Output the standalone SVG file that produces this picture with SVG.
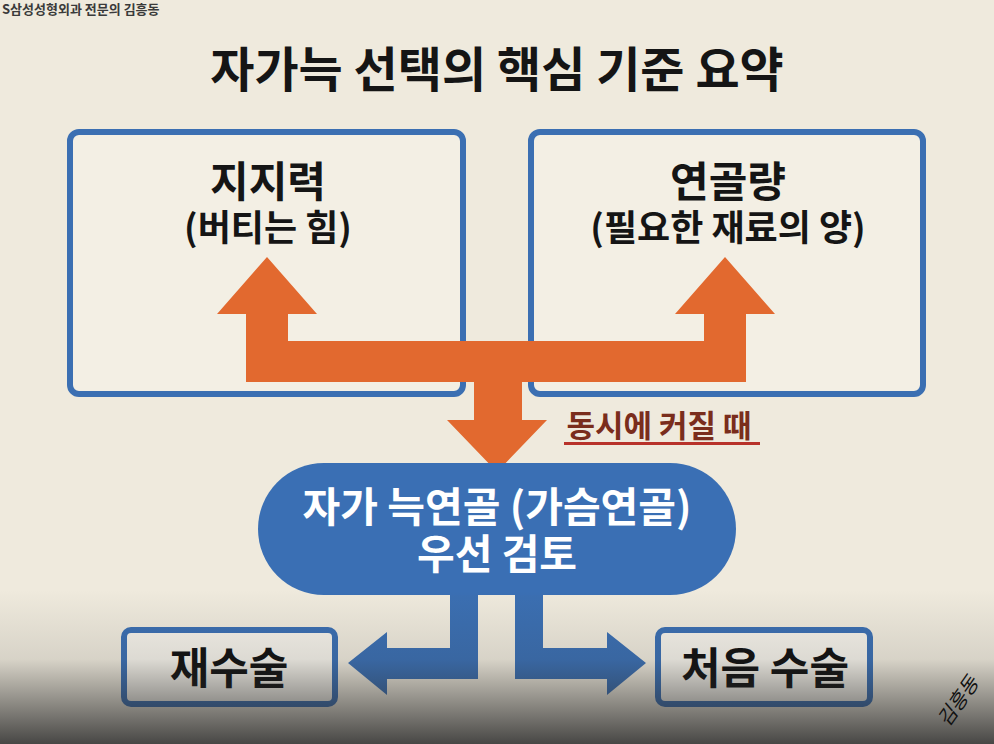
<svg xmlns="http://www.w3.org/2000/svg" width="994" height="744" viewBox="0 0 994 744">
<defs>
<style>
.t{font-family:"Noto Sans CJK KR","Noto Sans",sans-serif;font-weight:700;text-anchor:middle}
.box{fill:#f3efe4;stroke:#3b6fb2;stroke-width:6}
.orange{fill:#e2692f}
.blue{fill:#3b6fb2}
</style>
<linearGradient id="vig" x1="0" y1="0" x2="0" y2="1">
<stop offset="0" stop-color="#2a2a2a" stop-opacity="0"/>
<stop offset="0.45" stop-color="#2a2a2a" stop-opacity="0.12"/>
<stop offset="1" stop-color="#2a2a2a" stop-opacity="0.85"/>
</linearGradient>
</defs>
<rect width="994" height="744" fill="#efeadd"/>
<text x="2" y="14" font-family="Noto Sans CJK KR,sans-serif" font-size="13" font-weight="700" fill="#3a3a3a">S삼성성형외과 전문의 김흥동</text>
<text class="t" x="497" y="87" font-size="48" font-weight="900" fill="#151515">자가늑 선택의 핵심 기준 요약</text>

<g id="node-support">
<rect class="box" x="70" y="132" width="393" height="262" rx="9"/>
<text class="t" x="268" y="197" font-size="42" fill="#151515">지지력</text>
<text class="t" x="268" y="241" font-size="36" fill="#151515">(버티는 힘)</text>
</g>
<g id="node-amount">
<rect class="box" x="531" y="132" width="392" height="262" rx="9"/>
<text class="t" x="728" y="197" font-size="42" fill="#151515">연골량</text>
<text class="t" x="728" y="241" font-size="36" fill="#151515">(필요한 재료의 양)</text>
</g>

<g id="connectors">
<path class="orange" d="M246 382 L246 314 L217 314 L267 257 L317 314 L288 314 L288 341 L704 341 L704 314 L675 314 L725 257 L775 314 L746 314 L746 382 L522 382 L522 420 L547 420 L497 472 L447 420 L474 420 L474 382 Z"/>
<path class="blue" d="M450 590 L478 590 L478 679 L387 679 L387 695 L348 663 L387 632 L387 648 L450 648 Z"/>
<path class="blue" d="M515 590 L543 590 L543 648 L607 648 L607 632 L646 663 L607 695 L607 679 L515 679 Z"/>
<text class="t" x="659" y="437" font-size="31" fill="#7a2d1c">동시에 커질 때</text>
<rect x="564" y="442" width="196" height="3" fill="#b8322a"/>
</g>

<g id="node-rib">
<rect x="258" y="463" width="478" height="132" rx="66" fill="#3a6fb4"/>
<text class="t" x="497" y="522" font-size="41" fill="#ffffff">자가 늑연골 (가슴연골)</text>
<text class="t" x="497" y="569" font-size="41" fill="#ffffff">우선 검토</text>
</g>

<g id="node-revision">
<rect x="124" y="630" width="211" height="74" rx="7" fill="#f5f2ea" stroke="#3b6fb2" stroke-width="6"/>
<text class="t" x="229" y="684" font-size="43" fill="#111111">재수술</text>
</g>
<g id="node-first">
<rect x="658" y="630" width="212" height="74" rx="7" fill="#f5f2ea" stroke="#3b6fb2" stroke-width="6"/>
<text class="t" x="765" y="684" font-size="43" fill="#111111">처음 수술</text>
</g>

<rect x="0" y="590" width="994" height="154" fill="url(#vig)" pointer-events="none"/>
<text x="948" y="728" transform="rotate(-55 948 728)" font-family="Noto Sans CJK KR,sans-serif" font-size="20" font-weight="400" fill="#111111" font-style="italic">김흥동</text>
</svg>
